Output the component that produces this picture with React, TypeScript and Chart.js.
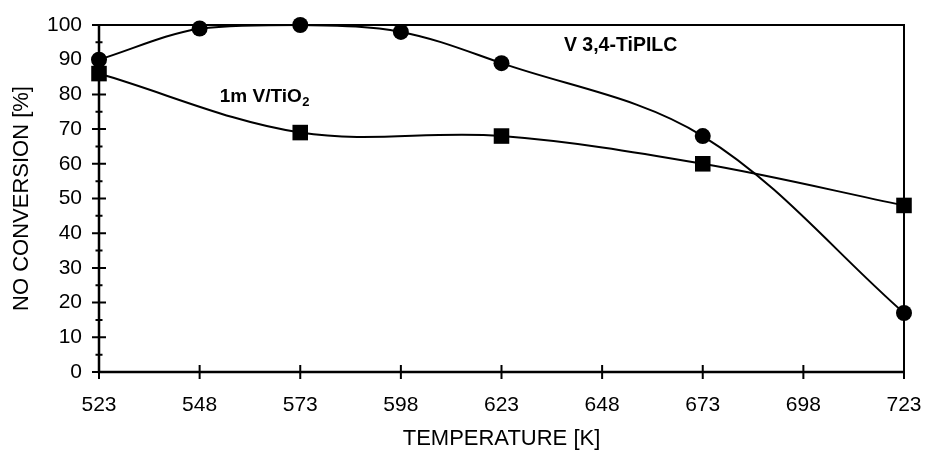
import React, { useEffect, useRef } from "react";
import { Chart, registerables } from "chart.js";

Chart.register(...registerables);

// ---- data ----
const tipilcTemperatures = [523, 548, 573, 598, 623, 673, 723];
const tipilcValues = [90, 99, 100, 98, 89, 68, 17];
const tio2Temperatures = [523, 573, 623, 673, 723];
const tio2Values = [86, 69, 68, 60, 48];
const xTickValues = [523, 548, 573, 598, 623, 648, 673, 698, 723];
const yTickValues = [0, 10, 20, 30, 40, 50, 60, 70, 80, 90, 100];
const yMinorTickValues = [5, 15, 25, 35, 45, 55, 65, 75, 85, 95];
const xAxisTitle = "TEMPERATURE [K]";
const yAxisTitle = "NO CONVERSION [%]";
const tipilcLabel = "V 3,4-TiPILC";
const tio2LabelMain = "1m V/TiO";
const tio2LabelSub = "2";

const FONT = "'Liberation Sans', Arial, sans-serif";

const framePlugin = {
  id: "frameAxes",
  beforeDatasetsDraw(chart: any) {
    const { ctx, chartArea, scales } = chart;
    const { left, right, top, bottom } = chartArea;
    const x = scales.x;
    const y = scales.y;
    ctx.save();
    ctx.strokeStyle = "#000";
    ctx.lineCap = "butt";
    ctx.lineWidth = 2;
    ctx.beginPath();
    ctx.moveTo(left, top);
    ctx.lineTo(right, top);
    ctx.lineTo(right, bottom);
    ctx.stroke();
    ctx.lineWidth = 2.5;
    ctx.beginPath();
    ctx.moveTo(left, top);
    ctx.lineTo(left, bottom);
    ctx.lineTo(right, bottom);
    ctx.stroke();
    ctx.lineWidth = 2;
    ctx.beginPath();
    for (const v of yTickValues) {
      const py = y.getPixelForValue(v);
      ctx.moveTo(left - 7, py);
      ctx.lineTo(left + 7, py);
    }
    for (const v of yMinorTickValues) {
      const py = y.getPixelForValue(v);
      ctx.moveTo(left - 3.5, py);
      ctx.lineTo(left + 3.5, py);
    }
    for (const v of xTickValues) {
      const px = x.getPixelForValue(v);
      ctx.moveTo(px, bottom - 7);
      ctx.lineTo(px, bottom + 7);
    }
    ctx.stroke();
    ctx.restore();
  },
  afterDatasetsDraw(chart: any) {
    const { ctx, scales } = chart;
    const x = scales.x;
    const y = scales.y;
    ctx.save();
    ctx.fillStyle = "#000";
    ctx.textBaseline = "middle";
    ctx.textAlign = "left";
    ctx.font = `bold 19.5px ${FONT}`;
    ctx.fillText(tipilcLabel, x.getPixelForValue(638.5), y.getPixelForValue(94.2));
    ctx.font = `bold 19px ${FONT}`;
    const lx = x.getPixelForValue(553);
    const ly = y.getPixelForValue(79.2);
    ctx.fillText(tio2LabelMain, lx, ly);
    const w = ctx.measureText(tio2LabelMain).width;
    ctx.font = `bold 13px ${FONT}`;
    ctx.fillText(tio2LabelSub, lx + w + 0.5, ly + 5);
    ctx.restore();
  },
};

export default function App() {
  const canvasRef = useRef<HTMLCanvasElement | null>(null);

  useEffect(() => {
    if (!canvasRef.current) return;
    const chart = new Chart(canvasRef.current, {
      type: "line",
      data: {
        datasets: [
          {
            label: tipilcLabel,
            data: tipilcTemperatures.map((t, i) => ({ x: t, y: tipilcValues[i] })),
            borderColor: "#000",
            backgroundColor: "#000",
            borderWidth: 2,
            pointStyle: "circle",
            pointRadius: 8,
            pointBorderWidth: 0,
            pointBackgroundColor: "#000",
            tension: 0.35,
            clip: false as any,
          },
          {
            label: "1m V/TiO2",
            data: tio2Temperatures.map((t, i) => ({ x: t, y: tio2Values[i] })),
            borderColor: "#000",
            backgroundColor: "#000",
            borderWidth: 2,
            pointStyle: "rect",
            pointRadius: 11,
            pointBorderWidth: 0,
            pointBackgroundColor: "#000",
            tension: 0.35,
            clip: false as any,
          },
        ],
      },
      options: {
        responsive: false,
        animation: false,
        layout: { padding: { top: 25, right: 22, left: 0, bottom: 0 } },
        plugins: {
          legend: { display: false },
          tooltip: { enabled: false },
        },
        scales: {
          x: {
            type: "linear",
            min: 523,
            max: 723,
            afterBuildTicks: (scale: any) => {
              scale.ticks = xTickValues.map((v) => ({ value: v }));
            },
            afterFit: (scale: any) => {
              scale.height = 78;
              scale.paddingLeft = 0;
              scale.paddingRight = 0;
            },
            grid: { display: false, drawTicks: false },
            border: { display: false },
            ticks: {
              color: "#000",
              font: { family: FONT, size: 21 },
              padding: 21,
              maxRotation: 0,
              autoSkip: false,
            },
            title: {
              display: true,
              text: xAxisTitle,
              color: "#000",
              font: { family: FONT, size: 22, lineHeight: 1.0 },
              padding: { top: 0, bottom: 0 },
            },
          },
          y: {
            type: "linear",
            min: 0,
            max: 100,
            afterBuildTicks: (scale: any) => {
              scale.ticks = yTickValues.map((v) => ({ value: v }));
            },
            afterFit: (scale: any) => {
              scale.width = 99;
              scale.paddingTop = 0;
              scale.paddingBottom = 0;
            },
            grid: { display: false, drawTicks: false },
            border: { display: false },
            ticks: {
              color: "#000",
              font: { family: FONT, size: 21 },
              padding: 17,
              autoSkip: false,
            },
            title: {
              display: true,
              text: yAxisTitle,
              color: "#000",
              font: { family: FONT, size: 22 },
              padding: { top: 9, bottom: 0 },
            },
          },
        },
      },
      plugins: [framePlugin],
    });
    return () => chart.destroy();
  }, []);

  return (
    <div style={{ position: "absolute", left: 0, top: 0, width: 926, height: 450, background: "#fff" }}>
      <canvas ref={canvasRef} width={926} height={450} />
    </div>
  );
}
